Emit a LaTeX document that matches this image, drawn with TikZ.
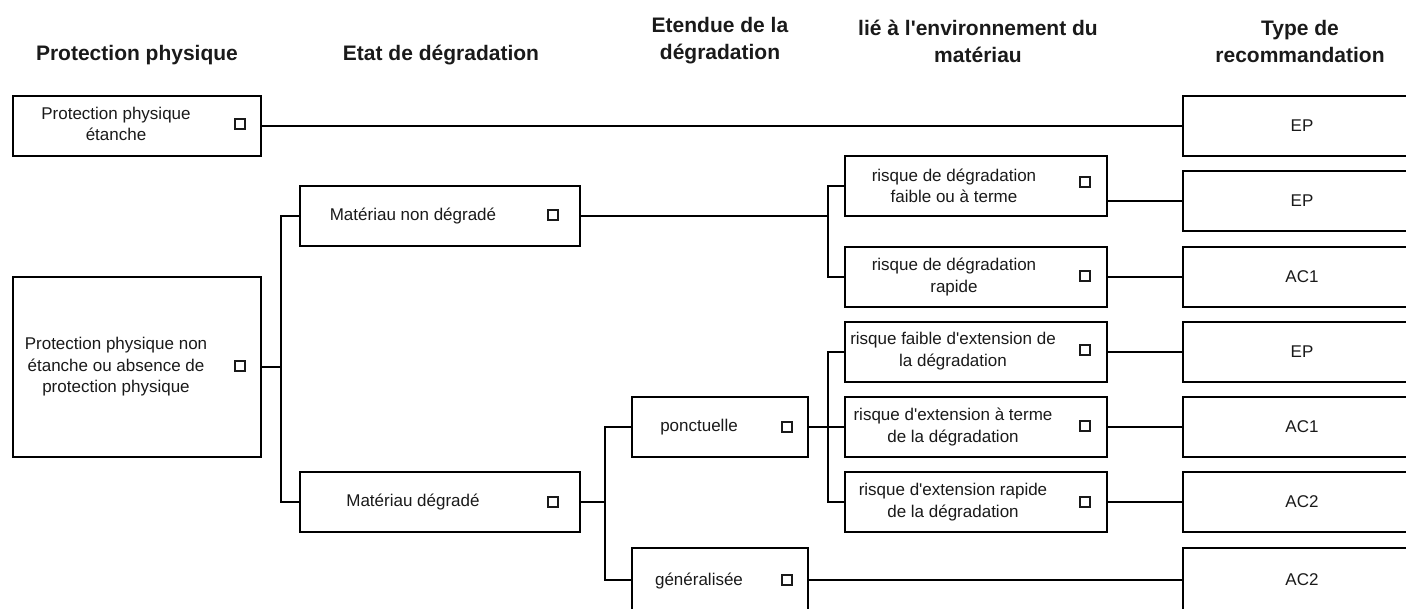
\documentclass[tikz,border=0pt]{standalone}
\usepackage{fontspec}
\setmainfont{Liberation Sans}[Ligatures=TeXOff]
\definecolor{ink}{HTML}{1A1A1A}
\begin{document}
\begin{tikzpicture}[x=1pt,y=-1pt,
  box/.style={draw=black, line width=2.2pt, inner sep=0pt, fill=white},
  sq/.style={draw=ink, line width=1.3pt, minimum size=10pt, inner sep=0pt},
  txt/.style={align=center, inner sep=0pt, text=ink, font=\fontsize{17}{21.5}\selectfont},
  rtxt/.style={text=ink, font=\fontsize{17}{21.5}\selectfont},
  head/.style={align=center, inner sep=0pt, text=ink, font=\fontsize{21}{27}\selectfont\bfseries},
  thk/.style={line width=2.4pt},
  thn/.style={line width=1.8pt}]
\useasboundingbox (0,0) rectangle (1406,609);
\clip (0,0) rectangle (1406,609);

% headers
\node[head] (h1) at (137,55) {Protection physique};
\node[head] (h2) at (441,55) {Etat de dégradation};
\node[head] (h3) at (720,41) {Etendue de la\\dégradation};
\node[head] (h4) at (978,41) {lié à l'environnement du\\matériau};
\node[head] (h5) at (1300,41) {Type de\\recommandation};

% first column
\node[box, minimum width=248pt, minimum height=60pt] (A) at (137,126) {};
\node[txt] (At) at (116,124) {Protection physique\\étanche};
\node[sq] (As) at (240,124) {};
\node[box, minimum width=248pt, minimum height=180pt] (B) at (137,367) {};
\node[txt] (Bt) at (116,367) {Protection physique non\\étanche ou absence de\\protection physique};
\node[sq] (Bs) at (240,366) {};

% second column
\node[box, minimum width=280pt, minimum height=60pt] (C) at (440,216) {};
\node[txt] (Ct) at (413,216) {Matériau non dégradé};
\node[sq] (Cs) at (553,215) {};
\node[box, minimum width=280pt, minimum height=60pt] (D) at (440,502) {};
\node[txt] (Dt) at (413,502) {Matériau dégradé};
\node[sq] (Ds) at (553,502) {};

% third column
\node[box, minimum width=176pt, minimum height=60pt] (E) at (720,427) {};
\node[txt] (Et) at (699,427) {ponctuelle};
\node[sq] (Es) at (787,427) {};
\node[box, minimum width=176pt, minimum height=64pt] (F) at (720,580) {};
\node[txt] (Ft) at (699,581) {généralisée};
\node[sq] (Fs) at (787,580) {};

% fourth column
\node[box, minimum width=262pt, minimum height=60pt] (G1) at (976,186) {};
\node[txt] (G1t) at (954,186) {risque de dégradation\\faible ou à terme};
\node[sq] (G1s) at (1085,182) {};
\node[box, minimum width=262pt, minimum height=60pt] (G2) at (976,277) {};
\node[txt] (G2t) at (954,277) {risque de dégradation\\rapide};
\node[sq] (G2s) at (1085,276) {};
\node[box, minimum width=262pt, minimum height=60pt] (G3) at (976,352) {};
\node[txt] (G3t) at (953,351) {risque faible d'extension de\\la dégradation};
\node[sq] (G3s) at (1085,350) {};
\node[box, minimum width=262pt, minimum height=60pt] (G4) at (976,427) {};
\node[txt] (G4t) at (953,427) {risque d'extension à terme\\de la dégradation};
\node[sq] (G4s) at (1085,426) {};
\node[box, minimum width=262pt, minimum height=60pt] (G5) at (976,502) {};
\node[txt] (G5t) at (953,502) {risque d'extension rapide\\de la dégradation};
\node[sq] (G5s) at (1085,502) {};

% recommendation column
\node[box, rtxt, minimum width=238pt, minimum height=60pt] (R1) at (1302,126) {EP};
\node[box, rtxt, minimum width=238pt, minimum height=60pt] (R2) at (1302,201) {EP};
\node[box, rtxt, minimum width=238pt, minimum height=60pt] (R3) at (1302,277) {AC1};
\node[box, rtxt, minimum width=238pt, minimum height=60pt] (R4) at (1302,352) {EP};
\node[box, rtxt, minimum width=238pt, minimum height=60pt] (R5) at (1302,427) {AC1};
\node[box, rtxt, minimum width=238pt, minimum height=60pt] (R6) at (1302,502) {AC2};
\node[box, rtxt, minimum width=238pt, minimum height=64pt] (R7) at (1302,580) {AC2};

% branch points
\coordinate (bB) at (281,367);
\coordinate (bC) at (828,216);
\coordinate (bD) at (605,502);
\coordinate (bE) at (828,427);

% connectors
\draw[thk] (A.east) -- (R1.west);
\draw[thk] (B.east) -- (bB);
\draw[thk] (C.west) -| (bB) |- (D.west);
\draw[thn] (C.east) -- (bC);
\draw[thn] (G1.west) -| (bC) |- (G2.west);
\draw[thk] (D.east) -- (bD);
\draw[thk] (E.west) -| (bD) |- (F.west);
\draw[thn] (E.east) -- (bE);
\draw[thn] (G3.west) -| (bE) |- (G5.west);
\draw[thn] (bE) -- (G4.west);
\draw[thn] (G1.east |- R2.west) -- (R2.west);
\draw[thk] (G2.east) -- (R3.west);
\draw[thk] (G3.east) -- (R4.west);
\draw[thn] (G4.east) -- (R5.west);
\draw[thk] (G5.east) -- (R6.west);
\draw[thk] (F.east) -- (R7.west);
\end{tikzpicture}
\end{document}
